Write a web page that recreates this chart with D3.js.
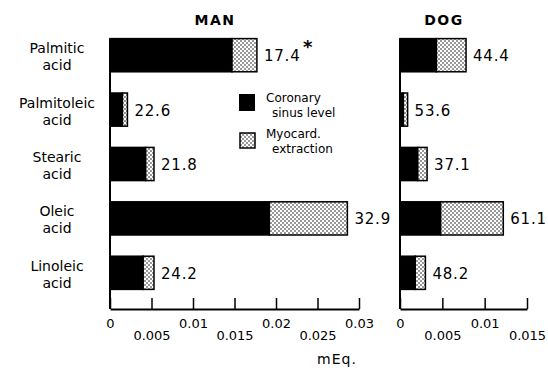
<!DOCTYPE html>
<html>
<head>
<meta charset="utf-8">
<script src="https://cdn.jsdelivr.net/npm/d3@7"></script>
<style>
  body { margin: 0; background: #fff; }
  svg { font-family: "DejaVu Sans", sans-serif; }
</style>
</head>
<body>
<div id="chart"></div>
<script>
// Data
const categories = ['Palmitic', 'Palmitoleic', 'Stearic', 'Oleic', 'Linoleic'];
const manCoronary = [0.0147, 0.0015, 0.0043, 0.0192, 0.0040];
const manExtraction = [0.0030, 0.0006, 0.0010, 0.0094, 0.0013];
const manPercent = ['17.4', '22.6', '21.8', '32.9', '24.2'];
const dogCoronary = [0.0043, 0.0004, 0.0021, 0.0048, 0.0018];
const dogExtraction = [0.0035, 0.0005, 0.0011, 0.0074, 0.0012];
const dogPercent = ['44.4', '53.6', '37.1', '61.1', '48.2'];
const manTicks = [0, 0.005, 0.01, 0.015, 0.02, 0.025, 0.03];
const dogTicks = [0, 0.005, 0.01, 0.015];

const chart_width = 548;
const chart_height = 373;

const svg = d3.select('#chart')
    .append('svg')
    .attr('width', chart_width)
    .attr('height', chart_height);

// stipple pattern for extraction
const pattern = svg.append('defs')
    .append('pattern')
    .attr('id', 'dots')
    .attr('patternUnits', 'userSpaceOnUse')
    .attr('width', 4)
    .attr('height', 4);
pattern.append('rect').attr('width', 4).attr('height', 4).attr('fill', '#fff');
pattern.append('circle').attr('cx', 1).attr('cy', 1).attr('r', 0.75).attr('fill', '#000');
pattern.append('circle').attr('cx', 3).attr('cy', 3).attr('r', 0.75).attr('fill', '#000');

const y_scale = d3.scaleBand()
    .domain(categories)
    .range([28, 300])
    .paddingInner(0.39)
    .paddingOuter(0.195);

const axis_y = 309;

// Category labels (two lines each)
const catLabels = svg.append('g')
    .attr('font-size', 14)
    .attr('text-anchor', 'middle');
catLabels.selectAll('text.name')
    .data(categories)
    .enter()
    .append('text')
    .attr('class', 'name')
    .attr('x', 57)
    .attr('y', d => y_scale(d) + y_scale.bandwidth() / 2 - 2)
    .text(d => d);
catLabels.selectAll('text.acid')
    .data(categories)
    .enter()
    .append('text')
    .attr('class', 'acid')
    .attr('x', 57)
    .attr('y', d => y_scale(d) + y_scale.bandwidth() / 2 + 15)
    .text('acid');

function panel(title, titleX, coronary, extraction, percent, ticks, domainMax, range) {
    const x_scale = d3.scaleLinear()
        .domain([0, domainMax])
        .range(range);

    const rows = categories.map((c, i) => ({ cat: c, coronary: coronary[i], extraction: extraction[i], pct: percent[i] }));
    const stack_data = d3.stack().keys(['coronary', 'extraction'])(rows);

    const g = svg.append('g');

    g.append('text')
        .attr('x', titleX)
        .attr('y', 25)
        .attr('text-anchor', 'middle')
        .attr('font-size', 14)
        .attr('font-weight', 'bold')
        .attr('letter-spacing', 1.5)
        .text(title);

    // vertical axis line
    g.append('line')
        .attr('x1', x_scale(0)).attr('x2', x_scale(0))
        .attr('y1', y_scale(categories[0]))
        .attr('y2', axis_y)
        .attr('stroke', '#000')
        .attr('stroke-width', 2);

    // bars
    g.selectAll('g.layer')
        .data(stack_data)
        .enter()
        .append('g')
        .attr('class', 'layer')
        .attr('fill', d => d.key === 'coronary' ? '#000' : 'url(#dots)')
        .selectAll('rect')
        .data(d => d)
        .enter()
        .append('rect')
        .attr('x', d => x_scale(d[0]))
        .attr('y', d => y_scale(d.data.cat))
        .attr('width', d => x_scale(d[1]) - x_scale(d[0]))
        .attr('height', y_scale.bandwidth())
        .attr('stroke', '#000')
        .attr('stroke-width', 1.5);

    // value labels
    g.selectAll('text.val')
        .data(rows)
        .enter()
        .append('text')
        .attr('class', 'val')
        .attr('x', d => x_scale(d.coronary + d.extraction) + 7)
        .attr('y', d => y_scale(d.cat) + y_scale.bandwidth() / 2 + 6)
        .attr('font-size', 15)
        .attr('letter-spacing', 0.8)
        .text(d => d.pct);

    // x axis
    const axis = g.append('g')
        .attr('transform', `translate(0,${axis_y})`)
        .call(d3.axisBottom(x_scale)
            .tickValues(ticks)
            .tickSize(-11)
            .tickSizeOuter(0)
            .tickFormat(d => d === 0 ? '0' : d3.format('')(d)));
    axis.select('.domain').attr('stroke-width', 2);
    axis.selectAll('.tick line').attr('stroke-width', 1.5);
    axis.selectAll('.tick text')
        .attr('font-family', '"DejaVu Sans", sans-serif')
        .attr('font-size', 13)
        .attr('fill', '#000')
        .attr('dy', 0)
        .attr('y', (d, i) => i % 2 === 0 ? 19 : 31);

    return x_scale;
}

const manX = panel('MAN', 215, manCoronary, manExtraction, manPercent, manTicks, 0.03, [110, 359]);
const dogX = panel('DOG', 444, dogCoronary, dogExtraction, dogPercent, dogTicks, 0.015, [400, 527]);

// asterisk
svg.append('text')
    .attr('x', 303)
    .attr('y', 53)
    .attr('font-size', 18)
    .attr('font-weight', 'bold')
    .text('*');

// Legend
const legend = svg.append('g').attr('font-size', 12);
legend.append('rect')
    .attr('x', 239).attr('y', 94).attr('width', 16).attr('height', 17)
    .attr('fill', '#000');
legend.append('rect')
    .attr('x', 240).attr('y', 133).attr('width', 15).attr('height', 15)
    .attr('fill', 'url(#dots)')
    .attr('stroke', '#000')
    .attr('stroke-width', 1.5);
legend.append('text').attr('x', 266).attr('y', 102).text('Coronary');
legend.append('text').attr('x', 272).attr('y', 117).text('sinus  level');
legend.append('text').attr('x', 266).attr('y', 138).text('Myocard.');
legend.append('text').attr('x', 272).attr('y', 153).text('extraction');

// axis title
svg.append('text')
    .attr('x', 337)
    .attr('y', 364)
    .attr('text-anchor', 'middle')
    .attr('font-size', 14)
    .attr('letter-spacing', 1)
    .text('mEq.');
</script>
</body>
</html>
